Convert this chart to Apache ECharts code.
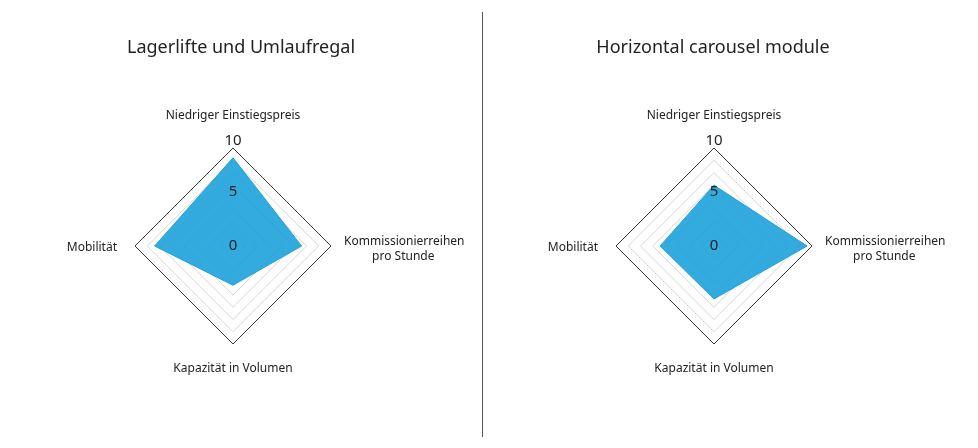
<!DOCTYPE html>
<html>
<head>
    <meta charset="utf-8">
    <script src="https://cdn.jsdelivr.net/npm/echarts@6/dist/echarts.min.js"></script>
    <style>
        html, body { margin: 0; padding: 0; background: #fff; }
        #main { width: 978px; height: 448px; }
    </style>
</head>
<body>
<div id="main"></div>
<script>
    // Achsen (Reihenfolge gegen den Uhrzeigersinn ab oben, wie ECharts sie legt)
    var indicatorNames = ['Niedriger Einstiegspreis', 'Mobilität', 'Kapazität in Volumen', 'Kommissionierreihen\n         pro Stunde'];
    var chartTitles = ['Lagerlifte und Umlaufregal', 'Horizontal carousel module'];
    var leftValues = [9, 8, 4, 7];
    var rightValues = [6.2, 5.5, 5.4, 9.5];
    var scaleMin = 0;
    var scaleMax = 10;
    var shownTicks = [0, 5, 10];

    var blue = '#1ea2dc';
    var font = '"Noto Sans", "Open Sans", sans-serif';
    var nameGaps = [24, 18, 16, 13];

    function makeIndicators(withLabel) {
        return indicatorNames.map(function (n, i) {
            return {
                name: n, min: scaleMin, max: scaleMax,
                nameGap: nameGaps[i],
                // nur die obere Achse bekommt Beschriftung
                axisLabel: { show: withLabel && i === 0 }
            };
        });
    }

    // 8 Ringe: innen hellgrau, aussen dunkel
    var ringColors = ['#d6d6d6', '#d6d6d6', '#d6d6d6', '#d6d6d6', '#d6d6d6', '#d6d6d6', '#d6d6d6', '#d6d6d6', '#3a3a3a'];

    function makeRadar(cx) {
        return {
            center: [cx, 246],
            radius: 98,
            startAngle: 90,
            shape: 'polygon',
            splitNumber: 8,
            indicator: makeIndicators(false),
            axisName: {
                color: '#222',
                fontFamily: font,
                fontSize: 12,
                lineHeight: 17,
                // seitliche Namen etwas tiefer setzen
                formatter: function (name) {
                    var lines = name.split('\n');
                    if (lines.length > 1) return '{d8|' + lines[0] + '}\n{n|' + lines.slice(1).join('\n') + '}';
                    if (name === indicatorNames[1]) return '{d4|' + name + '}';
                    return name;
                },
                rich: {
                    d8: { fontFamily: font, fontSize: 12, lineHeight: 17, color: '#222', padding: [8, 0, 0, 0] },
                    n: { fontFamily: font, fontSize: 12, lineHeight: 17, color: '#222', padding: [4, 0, 0, 0] },
                    d4: { fontFamily: font, fontSize: 12, lineHeight: 17, color: '#222', padding: [4, 0, 0, 0] }
                }
            },
            axisLine: { show: false },
            axisTick: { show: false },
            splitArea: { show: false },
            splitLine: { lineStyle: { color: ringColors, width: 1 } },
            axisLabel: { show: false }
        };
    }

    // zweites Radar nur fuer die Zahlen 0/5/10, liegt ueber der Flaeche
    function makeLabelRadar(cx) {
        return {
            z: 10,
            center: [cx, 246],
            radius: 98,
            startAngle: 90,
            shape: 'polygon',
            splitNumber: 8,
            indicator: makeIndicators(true),
            axisName: { show: false },
            axisLine: { show: false },
            axisTick: { show: false },
            splitArea: { show: false },
            splitLine: { show: false },
            axisLabel: {
                show: false,
                margin: 0,
                align: 'center',
                verticalAlign: 'middle',
                color: '#222',
                fontFamily: font,
                fontSize: 15,
                formatter: function (v) {
                    v = +v;
                    if (shownTicks.indexOf(v) < 0) return '';
                    return '{t' + v + '|' + v + '}';
                },
                rich: {
                    t0: { color: '#222', fontFamily: font, fontSize: 15, padding: [0, 0, 0, 0] },
                    t5: { color: '#222', fontFamily: font, fontSize: 15, padding: [0, 0, 10, 0] },
                    t10: { color: '#222', fontFamily: font, fontSize: 15, padding: [0, 0, 14, 0] }
                }
            }
        };
    }

    function makeSeries(idx, vals) {
        return {
            type: 'radar',
            radarIndex: idx,
            symbol: 'none',
            silent: true,
            lineStyle: { color: blue, width: 1 },
            areaStyle: { color: blue, opacity: 0.9 },
            data: [{ value: vals }]
        };
    }

    var chart = echarts.init(document.getElementById('main'));
    chart.setOption({
        animation: false,
        title: [
            { text: chartTitles[0], left: 236, top: 34, textAlign: 'center',
              textStyle: { fontFamily: font, fontSize: 18, fontWeight: 'normal', color: '#222' } },
            { text: chartTitles[1], left: 708, top: 34, textAlign: 'center',
              textStyle: { fontFamily: font, fontSize: 18, fontWeight: 'normal', color: '#222' } }
        ],
        radar: [makeRadar(233), makeRadar(714), makeLabelRadar(233), makeLabelRadar(714)],
        series: [makeSeries(0, leftValues), makeSeries(1, rightValues)],
        graphic: [{
            type: 'line',
            shape: { x1: 482.5, y1: 12, x2: 482.5, y2: 437 },
            style: { stroke: '#555', lineWidth: 1 }
        }]
    });
</script>
</body>
</html>
